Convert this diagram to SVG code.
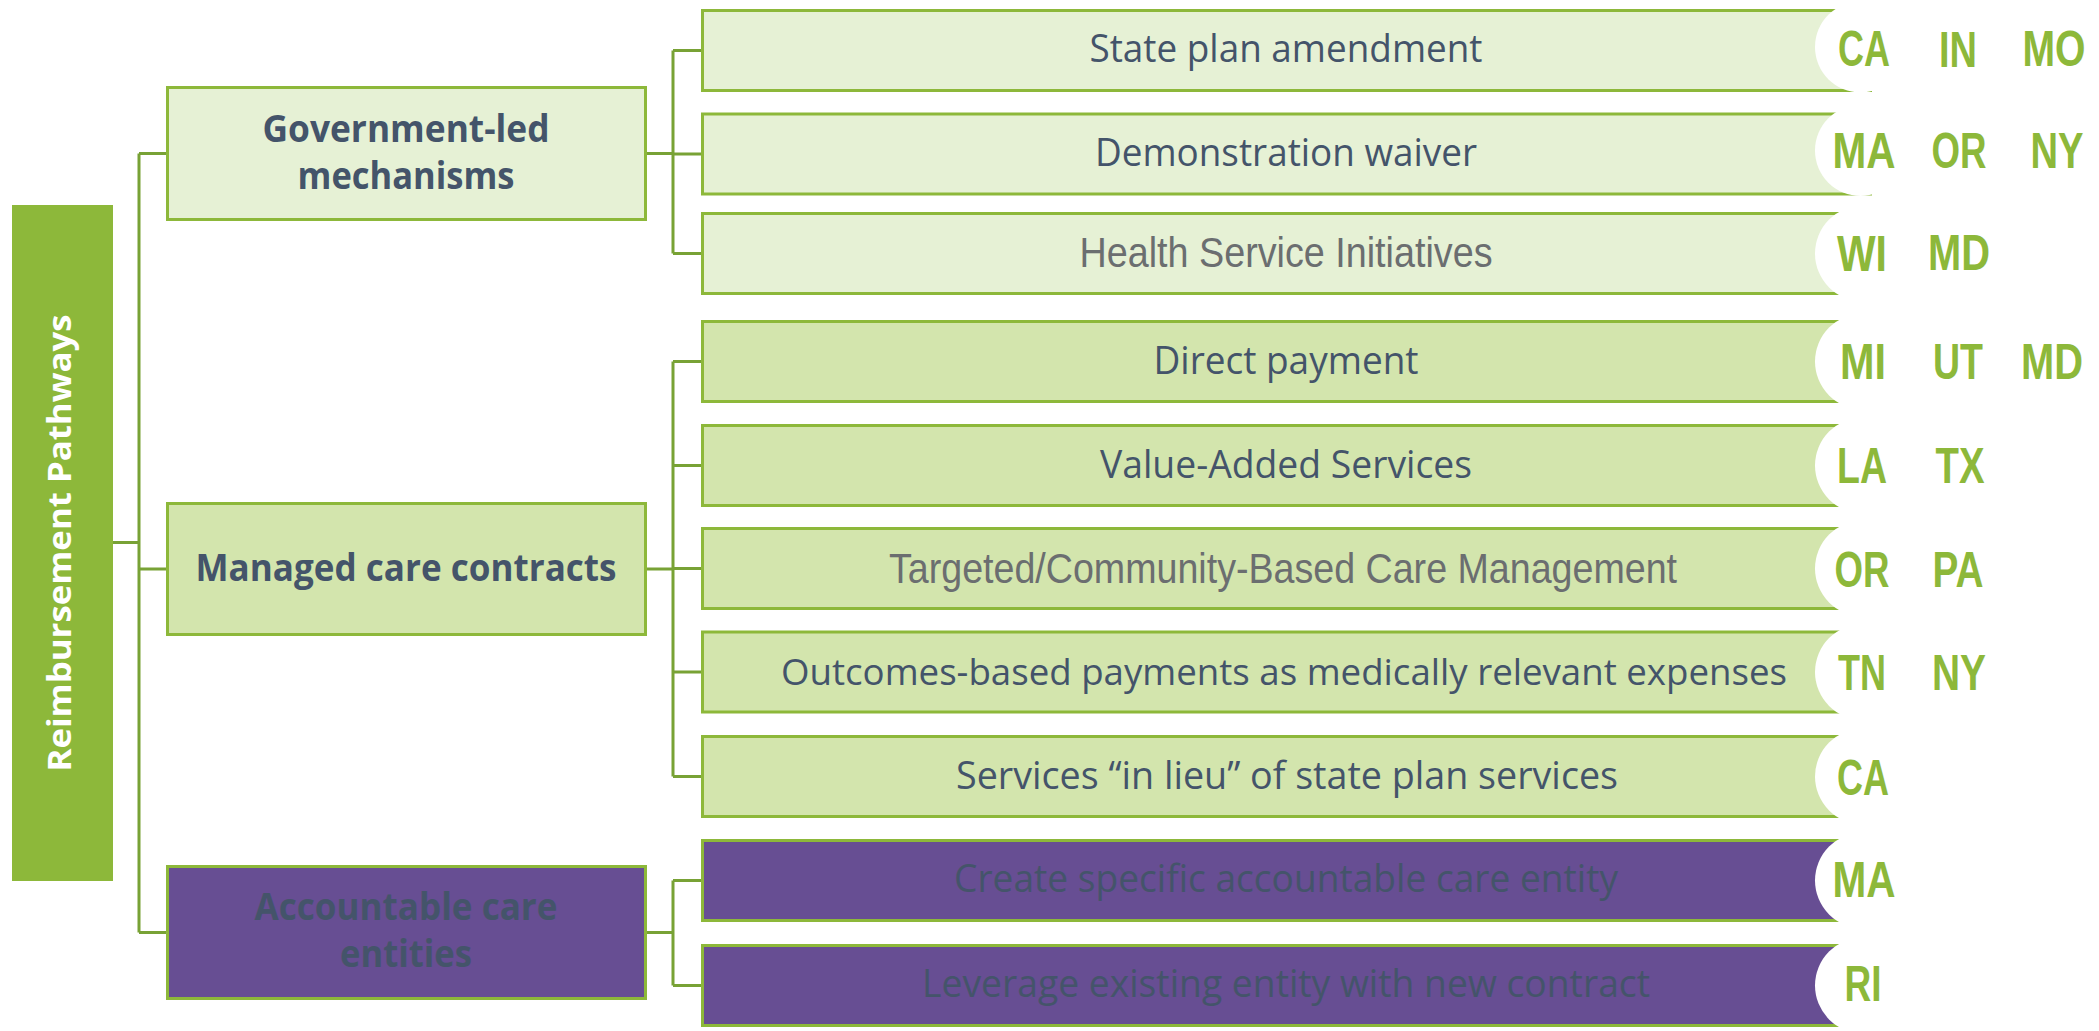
<svg xmlns="http://www.w3.org/2000/svg" width="2099" height="1031" viewBox="0 0 2099 1031">
  <style>
    .bg { fill: #ffffff; }
    .root { fill: #8DB83A; }
    .root-label { font-family: "Open Sans", "Liberation Sans", sans-serif; font-weight: 700; font-size: 32px; fill: #ffffff; }
    .lvl2 { stroke: #8DB83A; stroke-width: 3; }
    .lvl3 { stroke: #8DB83A; stroke-width: 3; }
    .gov { fill: #E6F1D5; }
    .mcc { fill: #D3E5AD; }
    .ace { fill: #674E93; }
    .lvl2-label { font-family: "Open Sans", "Liberation Sans", sans-serif; font-weight: 700; font-size: 37px; fill: #44546A; }
    .item { font-family: "Open Sans", "Liberation Sans", sans-serif; font-size: 39px; fill: #44546A; }
    .item-long { font-size: 37px; }
    .item-narrow { font-family: "Liberation Sans Narrow", "Liberation Sans", sans-serif; font-size: 42px; fill: #6B6E70; }
    .tab { fill: #ffffff; }
    .state { font-family: "Liberation Sans Narrow", "Liberation Sans", sans-serif; font-weight: 700; font-size: 50px; fill: #8DB83A; }
    .link { fill: none; stroke: #78A235; stroke-width: 3; }
  </style>

  <rect class="bg" x="0" y="0" width="2099" height="1031"/>

  <!-- tree connectors -->
  <g id="connectors">
    <path class="link" d="M113 542.5H139 M139 153.5V932.5 M139 153.5H166 M139 569H166 M139 932.5H166"/>
    <path class="link" d="M647 153.5H673 M673 50.5V253.5 M673 50.5H701 M673 154H701 M673 253.5H701"/>
    <path class="link" d="M647 569H673 M673 361.5V776.5 M673 361.5H701 M673 465.5H701 M673 568.5H701 M673 672H701 M673 776.5H701"/>
    <path class="link" d="M647 932.5H673 M673 880.5V985.5 M673 880.5H701 M673 985.5H701"/>
  </g>

  <!-- root -->
  <g id="reimbursement-pathways">
    <rect class="root" x="12" y="205" width="101" height="676"/>
    <text class="root-label" transform="translate(62.5,543) rotate(-90)" x="0" y="8" text-anchor="middle" textLength="457" lengthAdjust="spacingAndGlyphs">Reimbursement Pathways</text>
  </g>

  <!-- second level -->
  <g id="government-led">
    <rect class="lvl2 gov" x="167.5" y="87.5" width="478" height="132"/>
    <text class="lvl2-label" x="406" y="142" text-anchor="middle" textLength="287" lengthAdjust="spacingAndGlyphs">Government-led</text>
    <text class="lvl2-label" x="406" y="189" text-anchor="middle" textLength="217" lengthAdjust="spacingAndGlyphs">mechanisms</text>
  </g>
  <g id="managed-care">
    <rect class="lvl2 mcc" x="167.5" y="503.5" width="478" height="131"/>
    <text class="lvl2-label" x="406" y="581" text-anchor="middle" textLength="421" lengthAdjust="spacingAndGlyphs">Managed care contracts</text>
  </g>
  <g id="accountable-care">
    <rect class="lvl2 ace" x="167.5" y="866.5" width="478" height="132"/>
    <text class="lvl2-label" x="406" y="920" text-anchor="middle" textLength="303" lengthAdjust="spacingAndGlyphs">Accountable care</text>
    <text class="lvl2-label" x="406" y="967" text-anchor="middle" textLength="132" lengthAdjust="spacingAndGlyphs">entities</text>
  </g>

  <!-- third level: pathways with state tabs -->
  <g id="state-plan-amendment">
    <rect class="lvl3 gov" x="702.5" y="10.5" width="1168" height="80"/>
    <circle class="tab" cx="1860.5" cy="47" r="45.5"/>
    <text class="item" x="1286" y="62" text-anchor="middle" textLength="393" lengthAdjust="spacingAndGlyphs">State plan amendment</text>
    <text class="state" x="1864" y="66" text-anchor="middle" textLength="52" lengthAdjust="spacingAndGlyphs">CA</text>
    <text class="state" x="1958" y="67" text-anchor="middle" textLength="38" lengthAdjust="spacingAndGlyphs">IN</text>
    <text class="state" x="2054" y="66" text-anchor="middle" textLength="63" lengthAdjust="spacingAndGlyphs">MO</text>
  </g>
  <g id="demonstration-waiver">
    <rect class="lvl3 gov" x="702.5" y="114" width="1168" height="80"/>
    <circle class="tab" cx="1860.5" cy="150.5" r="45.5"/>
    <text class="item" x="1286" y="166" text-anchor="middle" textLength="382" lengthAdjust="spacingAndGlyphs">Demonstration waiver</text>
    <text class="state" x="1864" y="168" text-anchor="middle" textLength="63" lengthAdjust="spacingAndGlyphs">MA</text>
    <text class="state" x="1959" y="168" text-anchor="middle" textLength="55" lengthAdjust="spacingAndGlyphs">OR</text>
    <text class="state" x="2057" y="168" text-anchor="middle" textLength="53" lengthAdjust="spacingAndGlyphs">NY</text>
  </g>
  <g id="health-service-initiatives">
    <rect class="lvl3 gov" x="702.5" y="213.5" width="1168" height="80"/>
    <circle class="tab" cx="1863" cy="253.5" r="48"/>
    <text class="item-narrow" x="1286" y="267" text-anchor="middle" textLength="413" lengthAdjust="spacingAndGlyphs">Health Service Initiatives</text>
    <text class="state" x="1862" y="271" text-anchor="middle" textLength="50" lengthAdjust="spacingAndGlyphs">WI</text>
    <text class="state" x="1959" y="270" text-anchor="middle" textLength="62" lengthAdjust="spacingAndGlyphs">MD</text>
  </g>
  <g id="direct-payment">
    <rect class="lvl3 mcc" x="702.5" y="321.5" width="1168" height="80"/>
    <circle class="tab" cx="1863" cy="361.5" r="48"/>
    <text class="item" x="1286" y="373.5" text-anchor="middle" textLength="265" lengthAdjust="spacingAndGlyphs">Direct payment</text>
    <text class="state" x="1863" y="379" text-anchor="middle" textLength="46" lengthAdjust="spacingAndGlyphs">MI</text>
    <text class="state" x="1958" y="379" text-anchor="middle" textLength="50" lengthAdjust="spacingAndGlyphs">UT</text>
    <text class="state" x="2052" y="379" text-anchor="middle" textLength="62" lengthAdjust="spacingAndGlyphs">MD</text>
  </g>
  <g id="value-added-services">
    <rect class="lvl3 mcc" x="702.5" y="425.5" width="1168" height="80"/>
    <circle class="tab" cx="1863" cy="465.5" r="48"/>
    <text class="item" x="1286" y="477.5" text-anchor="middle" textLength="372" lengthAdjust="spacingAndGlyphs">Value-Added Services</text>
    <text class="state" x="1862" y="483" text-anchor="middle" textLength="50" lengthAdjust="spacingAndGlyphs">LA</text>
    <text class="state" x="1960" y="483" text-anchor="middle" textLength="49" lengthAdjust="spacingAndGlyphs">TX</text>
  </g>
  <g id="targeted-care-management">
    <rect class="lvl3 mcc" x="702.5" y="528.5" width="1168" height="80"/>
    <circle class="tab" cx="1863" cy="568.5" r="48"/>
    <text class="item-narrow" x="1283" y="582.5" text-anchor="middle" textLength="788" lengthAdjust="spacingAndGlyphs">Targeted/Community-Based Care Management</text>
    <text class="state" x="1862" y="586.5" text-anchor="middle" textLength="55" lengthAdjust="spacingAndGlyphs">OR</text>
    <text class="state" x="1958" y="586.5" text-anchor="middle" textLength="51" lengthAdjust="spacingAndGlyphs">PA</text>
  </g>
  <g id="outcomes-based-payments">
    <rect class="lvl3 mcc" x="702.5" y="632" width="1168" height="80"/>
    <circle class="tab" cx="1863" cy="672" r="48"/>
    <text class="item item-long" x="1284" y="684.5" text-anchor="middle" textLength="1006" lengthAdjust="spacingAndGlyphs">Outcomes-based payments as medically relevant expenses</text>
    <text class="state" x="1862" y="690" text-anchor="middle" textLength="48" lengthAdjust="spacingAndGlyphs">TN</text>
    <text class="state" x="1959" y="690" text-anchor="middle" textLength="54" lengthAdjust="spacingAndGlyphs">NY</text>
  </g>
  <g id="in-lieu-services">
    <rect class="lvl3 mcc" x="702.5" y="736.5" width="1168" height="80"/>
    <circle class="tab" cx="1863" cy="776.5" r="48"/>
    <text class="item" x="1287" y="788.5" text-anchor="middle" textLength="662" lengthAdjust="spacingAndGlyphs">Services “in lieu” of state plan services</text>
    <text class="state" x="1863" y="795" text-anchor="middle" textLength="52" lengthAdjust="spacingAndGlyphs">CA</text>
  </g>
  <g id="create-entity">
    <rect class="lvl3 ace" x="702.5" y="840.5" width="1168" height="80"/>
    <circle class="tab" cx="1863" cy="880.5" r="48"/>
    <text class="item" x="1286" y="892" text-anchor="middle" textLength="664" lengthAdjust="spacingAndGlyphs">Create specific accountable care entity</text>
    <text class="state" x="1864" y="897" text-anchor="middle" textLength="63" lengthAdjust="spacingAndGlyphs">MA</text>
  </g>
  <g id="leverage-entity">
    <rect class="lvl3 ace" x="702.5" y="945.5" width="1168" height="80"/>
    <circle class="tab" cx="1863" cy="985.5" r="48"/>
    <text class="item" x="1286" y="997" text-anchor="middle" textLength="728" lengthAdjust="spacingAndGlyphs">Leverage existing entity with new contract</text>
    <text class="state" x="1863" y="1001" text-anchor="middle" textLength="37" lengthAdjust="spacingAndGlyphs">RI</text>
  </g>
</svg>
